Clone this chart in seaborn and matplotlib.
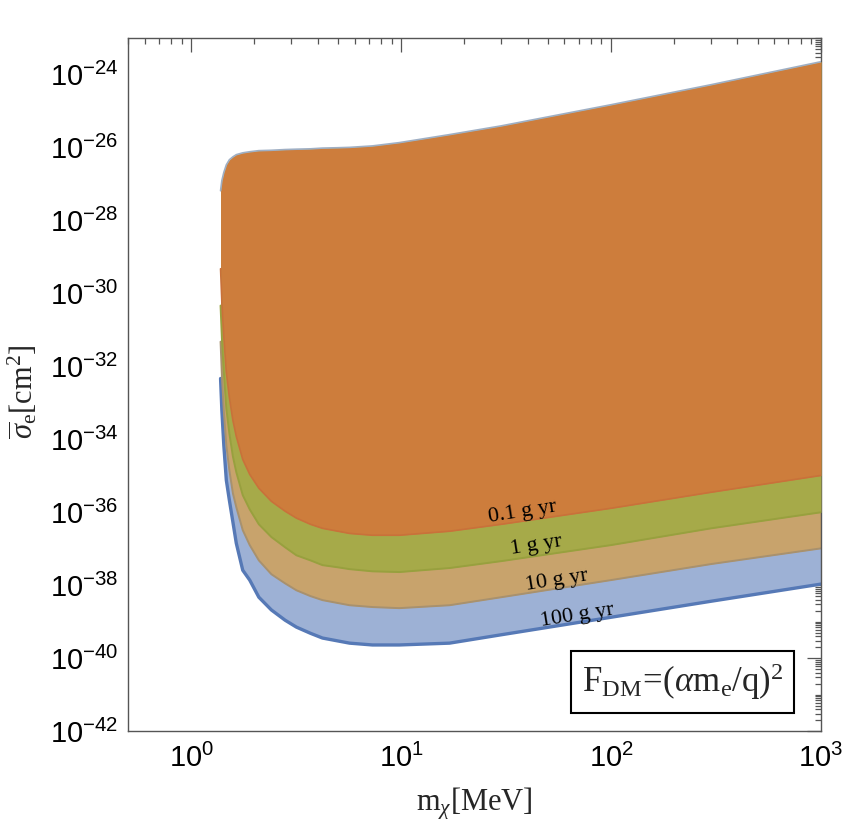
import numpy as np
import pandas as pd
import matplotlib
matplotlib.use("Agg")
import matplotlib.pyplot as plt
import seaborn as sns
from matplotlib.ticker import FixedLocator, FuncFormatter, NullFormatter

# ---------------- data ----------------
mass = [1.38, 1.40, 1.43, 1.47, 1.52, 1.58, 1.64, 1.76, 1.90, 2.10, 2.41, 2.80,
        3.17, 3.70, 4.22, 5.0, 5.68, 7.3, 9.8, 17, 30, 100, 300, 1000]

# log10 of sigma_e [cm^2]
upper_log = [-27.18, -26.90, -26.68, -26.47, -26.33, -26.25, -26.19, -26.14, -26.11,
             -26.08, -26.07, -26.05, -26.04, -26.03, -26.01, -26.00, -25.99, -25.95,
             -25.86, -25.64, -25.40, -24.82, -24.27, -23.64]
low_01g_log = [-29.32, -30.25, -31.18, -32.16, -32.85, -33.48, -33.92, -34.55, -34.96,
               -35.34, -35.70, -35.97, -36.16, -36.33, -36.44, -36.52, -36.58, -36.63,
               -36.63, -36.52, -36.33, -35.89, -35.45, -34.99]
low_1g_log = [-30.33, -31.23, -32.16, -33.15, -33.84, -34.47, -34.90, -35.53, -35.92,
              -36.33, -36.68, -36.96, -37.18, -37.32, -37.45, -37.51, -37.56, -37.62,
              -37.64, -37.53, -37.34, -36.90, -36.44, -36.00]
low_10g_log = [-31.32, -32.25, -33.21, -34.16, -34.85, -35.48, -35.86, -36.49, -36.90,
               -37.32, -37.70, -37.95, -38.14, -38.30, -38.41, -38.49, -38.55, -38.60,
               -38.63, -38.55, -38.33, -37.86, -37.42, -36.99]
low_100g_log = [-32.33, -33.21, -34.16, -35.12, -35.67, -36.27, -36.85, -37.59, -37.86,
                -38.33, -38.68, -38.96, -39.15, -39.32, -39.45, -39.53, -39.59, -39.64,
                -39.64, -39.59, -39.36, -38.88, -38.44, -37.97]

exposure_labels = ["0.1 g yr", "1 g yr", "10 g yr", "100 g yr"]
label_x = [37.8, 44.0, 55.0, 69.0]
label_ylog = [-36.0, -36.92, -37.88, -38.84]

y_tick_exps = list(range(-42, -23, 2))
x_tick_vals = [1, 10, 100, 1000]

# ---------------- style ----------------
sns.set_theme(style="white")
plt.rcParams.update({
    "font.family": ["Liberation Serif", "DejaVu Serif"],
    "mathtext.fontset": "custom",
    "mathtext.rm": "Liberation Serif",
    "mathtext.it": "Liberation Serif:italic",
    "mathtext.bf": "Liberation Serif:bold",
    "mathtext.sf": "Liberation Sans",
})

fig = plt.figure(figsize=(8.43, 8.33), dpi=100)
ax = fig.add_axes([128 / 843, 1 - 731 / 833, 693 / 843, 693 / 833])
ax.set_xscale("log")
ax.set_yscale("log")

m = np.array(mass)
upper = 10.0 ** np.array(upper_log)

series = [
    (low_100g_log, "#9DB1D5", "#5679B6", 2.4),
    (low_10g_log, "#C8A36C", "#A8916E", 1.4),
    (low_1g_log, "#A6AA49", "#98A03E", 1.4),
    (low_01g_log, "#CD7D3C", "#C9713A", 1.2),
]

z = 1
for low_log, fc, ec, lw in series:
    low = 10.0 ** np.array(low_log)
    ax.fill_between(m, low, upper, color=fc, lw=0, zorder=z)
    df = pd.DataFrame({"m": m, "s": low})
    sns.lineplot(data=df, x="m", y="s", color=ec, lw=lw, ax=ax, zorder=z + 0.5,
                 estimator=None, sort=False)
    z += 1

sns.lineplot(x=m, y=upper, color="#9FAFC4", lw=1.2, ax=ax, zorder=z, estimator=None,
             sort=False)

for txt, lx, ly in zip(exposure_labels, label_x, label_ylog):
    ax.text(lx, 10.0 ** ly, txt, fontsize=16, ha="center", va="center", rotation=9,
            zorder=20, color="black")

ax.text(0.80, 0.0707, r"$\mathrm{F}_{\mathrm{DM}}\!=\!(\alpha\mathrm{m}_{\mathrm{e}}/\mathrm{q})^{2}$",
        transform=ax.transAxes, fontsize=25, ha="center", va="center", zorder=30,
        bbox=dict(boxstyle="square,pad=0.3", fc="white", ec="black", lw=1.5))

ax.set_xlim(0.5, 1000)
ax.set_ylim(1e-42, 10 ** -22.99)

# ticks
ax.xaxis.set_major_locator(FixedLocator(x_tick_vals))
xminor = [k * 10.0 ** e for e in range(-1, 3) for k in range(2, 10)]
ax.xaxis.set_minor_locator(FixedLocator([v for v in xminor if 0.5 <= v <= 1000]))
ax.yaxis.set_major_locator(FixedLocator([10.0 ** e for e in y_tick_exps]))
yminor = [k * 10.0 ** e for e in range(-43, -22) for k in range(1, 10)
          if not (k == 1 and e % 2 == 0)]
ax.yaxis.set_minor_locator(FixedLocator(yminor))

fmt = FuncFormatter(lambda v, p: r"$\mathsf{10^{%d}}$" % int(round(np.log10(v))))
ax.xaxis.set_major_formatter(fmt)
ax.yaxis.set_major_formatter(fmt)
ax.xaxis.set_minor_formatter(NullFormatter())
ax.yaxis.set_minor_formatter(NullFormatter())

spine_c = "#555555"
for s in ax.spines.values():
    s.set_color(spine_c)
    s.set_linewidth(1.0)
    s.set_visible(True)
ax.tick_params(which="both", direction="in", top=True, right=True, color=spine_c,
               labelcolor="black", width=0.9)
ax.tick_params(which="major", length=10, labelsize=21)
ax.tick_params(which="minor", length=4)
ax.tick_params(axis="x", which="major", pad=9)
ax.tick_params(axis="y", which="major", pad=7)
ax.grid(False)

ax.set_xlabel(r"$\mathrm{m}_{\chi}[\mathrm{MeV}]$", fontsize=22)
ax.xaxis.set_label_coords(0.5, -0.078)
ax.set_ylabel(r"$\overline{\sigma}_{\mathrm{e}}[\mathrm{cm}^{2}]$", fontsize=22)
ax.yaxis.set_label_coords(-0.128, 0.49)

fig.savefig("out.png", dpi=100)
